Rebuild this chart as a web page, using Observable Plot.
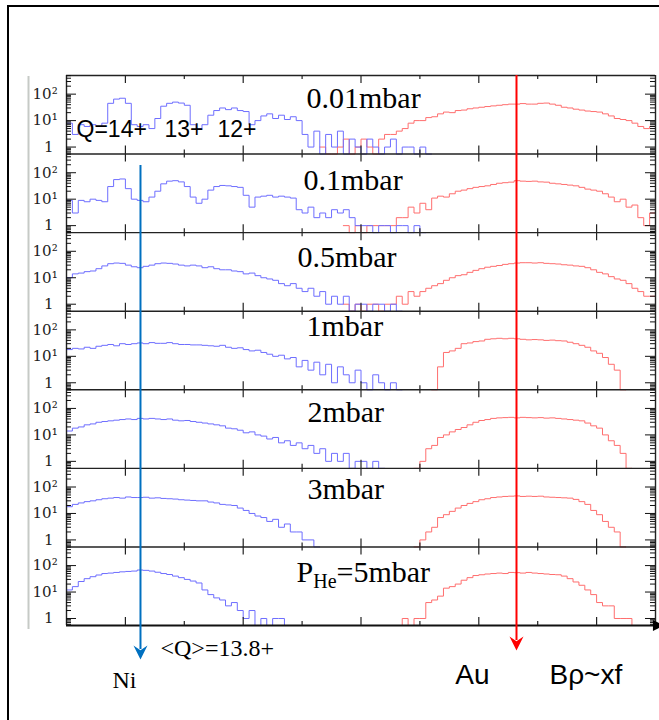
<!DOCTYPE html>
<html><head><meta charset="utf-8">
<script src="https://cdn.jsdelivr.net/npm/d3@7"></script>
<script src="https://cdn.jsdelivr.net/npm/@observablehq/plot@0.6"></script>
<style>
html,body{margin:0;padding:0;background:#fff;overflow:hidden}
body{width:659px;height:720px;position:relative}
#frame{position:absolute;left:7px;top:5px;width:720px;height:800px;border:2.5px solid #000;pointer-events:none}
</style></head><body>
<div id="chart"></div><div id="frame"></div>
<script>
// ---- data: histogram counts per bin (bin k covers [k, k+1) on a 0..100 Bρ axis) ----
const pressures = ["0.01mbar","0.1mbar","0.5mbar","1mbar","2mbar","3mbar","P_He=5mbar"];

const ni001Start = 0;
const ni001 = [8,3,7,6,7,6,8,45,65,70, 45,7,6,7,5,12,35,45,50,46, 38,7,5,7,16,24,30,26,30,24, 22,7,10,15,18,12,16,11,14,10, 3,1,4,0,3,1,4,0,2,1, 0,2,1,0,1,2,0,1,1,0, 1,0];
const au001Start = 43;
const au001 = [1,0,0,1,2,0,1,2,1,0, 2,3,3,4,5,8,10,10,13,14, 18,21,20,24,25,28,30,32,34,36, 38,40,42,42,44,42,42,45,46,42, 38,32,30,27,25,23,22,21,18,15, 12,11,10,8,6,5,6];

const ni01Start = 0;
const ni01 = [9,3,9,8,10,9,8,30,55,58, 25,10,9,8,12,20,38,48,50,45, 30,12,7,10,22,30,33,32,30,28, 14,5,12,13,14,12,13,12,11,4, 3,5,2,3,2,4,3,4,2,1, 1,1,0,1,1,0,1,1,0,1, 0];
const au01Start = 47;
const au01 = [1,0,1,0,1,1,1,1,1,2, 2,5,3,7,4,11,13,12,16,20, 22,25,28,30,32,36,40,42,44,50, 48,47,48,45,44,40,38,36,34,32, 28,24,22,20,16,12,8,10,5,6, 2,1,3];

const ni05Start = 0;
const ni05 = [10,14,15,17,18,22,28,34,36,35, 30,26,24,27,30,34,36,35,33,30, 28,30,28,24,26,22,20,20,18,17, 14,15,12,10,9,8,6,5,6,4, 3,4,2,3,1,2,1,2,0,1, 1,0,1,1,0,1,0];
const au05Start = 47;
const au05 = [1,0,1,0,1,1,0,1,1,2,1,3,2, 3,4,5,6,8,10,12,13,16,19, 22,25,27,29,32,34,36,37,37,36, 37,35,34,33,31,30,28,27,24,20, 16,14,11,9,8,6,4,3,2,2];

const ni1Start = 0;
const ni1 = [18,20,19,22,20,24,26,28,25,30, 28,30,32,30,33,31,31,33,30,28, 28,27,27,26,25,24,26,22,20,21, 18,16,17,14,12,10,11,8,9,4, 7,3,6,2,5,1,4,2,1,3, 1,0,2,1,0,1,0];
const au1Start = 62;
const au1 = [0,4,14,16,20,30,32,36,38,44, 46,48,46,48,46,44,42,43,42,40, 41,39,38,34,30,26,22,16,13,9, 5,3,0];

const ni2Start = 0;
const ni2 = [14,18,20,24,26,30,32,34,36,38, 40,38,42,40,42,40,38,40,36,34, 35,32,30,28,26,24,22,18,17,15, 12,13,10,9,7,8,5,6,4,5, 3,4,2,3,1,2,1,2,0,1, 1,0,1,0];
const au2Start = 59;
const au2 = [0,1,3,4,8,10,13,16,19,24, 30,35,38,42,44,45,46,44,46,45, 44,45,43,44,42,40,38,36,34,28, 22,18,10,6,4,2,0];

const ni3Start = 0;
const ni3 = [18,22,25,28,30,33,36,38,40,38, 42,40,40,41,38,39,37,36,35,33, 32,31,30,30,27,25,22,21,20,16, 13,10,8,7,5,6,3,4,2,2, 1,1,0];
const au3Start = 59;
const au3 = [0,1,2,3,7,9,12,16,20,24, 28,33,36,40,42,44,45,46,44,45, 44,45,42,41,40,39,38,34,28,22, 13,9,5,3,2,0];

const ni5Start = 0;
const ni5 = [12,16,25,32,38,44,50,52,55,58, 60,62,68,66,62,56,50,46,40,35, 30,26,22,12,8,6,5,3,4,2, 1,2,0,1,0,1,1,0];
const au5Start = 56;
const au5 = [0,1,0,1,1,4,5,7,14,16, 20,28,35,42,45,48,50,52,50,55, 54,52,55,52,50,48,46,45,40,32, 24,18,12,8,4,3,3,1,1,1, 0];

const xTicksMajor = [10,30,50,70,90];
const xTicksMinor = [20,40,60,80];
const yTicksMajor = [1,10,100];
const yTickLabels = ["1","10¹","10²"];
const yTicksMinor = [0.6,0.7,0.8,0.9,2,3,4,5,6,7,8,9,20,30,40,50,60,70,80,90,200,300,400,500];
const qLabels = ["Q=14+","13+","12+"];

// ---- layout helpers (composite vertical axis: 7 stacked log panels) ----
const NP = 7, S = 2.97, LO = -0.265;
const base = i => (NP - 1 - i) * S;
const yOf = (i, v) => base(i) + (v > 0 ? Math.log10(v) - LO : 0);

const series = [
  [ni001Start, ni001, au001Start, au001],
  [ni01Start, ni01, au01Start, au01],
  [ni05Start, ni05, au05Start, au05],
  [ni1Start, ni1, au1Start, au1],
  [ni2Start, ni2, au2Start, au2],
  [ni3Start, ni3, au3Start, au3],
  [ni5Start, ni5, au5Start, au5]
];
const niRows = [], auRows = [];
function addRows(out, i, start, counts, key) {
  counts.forEach((c, j) => out.push({x: start + j, Y: yOf(i, c), key}));
  out.push({x: start + counts.length, Y: yOf(i, counts[counts.length - 1]), key});
}
series.forEach(([ns, n, as, a], i) => {
  addRows(niRows, i, ns, n, "ni" + i);
  addRows(auRows, i, as, a, "au" + i);
});

// ticks
const LMaj = 8 / 26.455, LMin = 4 / 26.455;
const xTickRows = [];
for (let b = 0; b <= NP; b++) {
  const Yb = b * S;
  for (const [arr, L] of [[xTicksMajor, LMaj], [xTicksMinor, LMin]])
    for (const t of arr) xTickRows.push({x: t, y1: b > 0 ? Yb - L : Yb, y2: b < NP ? Yb + L : Yb});
}
const yTickRows = [];
const yLabelRows = [];
for (let i = 0; i < NP; i++) {
  yTicksMajor.forEach((v, j) => {
    yTickRows.push({Y: yOf(i, v), len: 1.7});
    yLabelRows.push({Y: yOf(i, v), label: yTickLabels[j]});
  });
  yTicksMinor.forEach(v => yTickRows.push({Y: yOf(i, v), len: 0.85}));
}

// annotation positions
const labelPos = [[40.75,19.94],[40.24,16.84],[39.2,13.90],[40.75,11.29],[40.9,8.07],[40.9,5.13],[39.05,1.99]];
const labelRows = pressures.map((p, i) => ({text: p, x: labelPos[i][0], Y: labelPos[i][1]}));
const qPos = [1.70, 16.64, 25.64];
const qRows = qLabels.map((t, i) => ({text: t, x: qPos[i], Y: 18.74}));

const arrowDown = {draw(ctx, size) {
  const s = Math.sqrt(size);
  ctx.moveTo(0, s / 2); ctx.lineTo(-s / 2, -s / 2); ctx.lineTo(0, -s / 6); ctx.lineTo(s / 2, -s / 2); ctx.closePath();
}};
const arrowRight = {draw(ctx, size) {
  const s = Math.sqrt(size);
  ctx.moveTo(s / 2, 0); ctx.lineTo(-s / 2, -s / 2); ctx.lineTo(-s / 2, s / 2); ctx.closePath();
}};

const chart = Plot.plot({
  width: 659, height: 720,
  marginLeft: 66, marginRight: 4, marginTop: 75, marginBottom: 95,
  style: {background: "white", overflow: "visible"},
  x: {domain: [0, 100], axis: null},
  y: {domain: [0, NP * S], axis: null},
  marks: [
    Plot.ruleX([-6.45], {y1: 20.75, y2: -0.15, stroke: "#c6cac6", strokeWidth: 2}),
    Plot.line(auRows, {x: "x", y: "Y", z: "key", curve: "step-after", stroke: "#ff6e6e", strokeWidth: 1}),
    Plot.line(niRows, {x: "x", y: "Y", z: "key", curve: "step-after", stroke: "#6e6eff", strokeWidth: 1}),
    Plot.ruleY(d3.range(1, NP + 1).map(b => b * S), {x1: 0, x2: 100, stroke: "#222", strokeWidth: 1.4}),
    Plot.ruleY([0], {x1: 0, x2: 100, stroke: "#111", strokeWidth: 2}),
    Plot.ruleX([0, 100], {y1: 0, y2: NP * S, stroke: "#222", strokeWidth: 1.4}),
    Plot.ruleX(xTickRows, {x: "x", y1: "y1", y2: "y2", stroke: "#222", strokeWidth: 1.2}),
    Plot.ruleY(yTickRows, {y: "Y", x1: 0, x2: d => d.len, stroke: "#111", strokeWidth: 1}),
    Plot.ruleY(yTickRows, {y: "Y", x1: d => 100 - d.len, x2: 100, stroke: "#111", strokeWidth: 1}),
    Plot.text(yLabelRows.filter(d => d.label !== "1"), {x: -1.5, y: "Y", text: "label", textAnchor: "end", fontSize: 15, fontFamily: "DejaVu Serif", fill: "#222"}),
    Plot.text(yLabelRows.filter(d => d.label === "1"), {x: -1.5, y: "Y", text: "label", textAnchor: "end", dx: -4, fontSize: 15, fontFamily: "DejaVu Serif", fill: "#222"}),
    Plot.text(labelRows, {x: "x", y: "Y", text: "text", textAnchor: "start", fontSize: 30, fontFamily: "Liberation Serif", fill: "#000"}),
    Plot.text(qRows, {x: "x", y: "Y", text: "text", textAnchor: "start", fontSize: 23, fontFamily: "Liberation Sans", fill: "#000"}),
    Plot.ruleX([12.56], {y1: 17.39, y2: -0.91, stroke: "#0070c0", strokeWidth: 2}),
    Plot.dot([12.56], {x: d => d, y: -1.02, symbol: arrowDown, r: 7.9, fill: "#0070c0", stroke: "none"}),
    Plot.ruleX([76.4], {y1: NP * S, y2: -0.57, stroke: "#ff0000", strokeWidth: 2}),
    Plot.dot([76.4], {x: d => d, y: -0.68, symbol: arrowDown, r: 7.9, fill: "#ff0000", stroke: "none"}),
    Plot.dot([100.5], {x: d => d, y: 0, symbol: arrowRight, r: 6.2, fill: "#000", stroke: "none"}),
    Plot.text(["<Q>=13.8+"], {x: 15.96, y: -0.88, text: d => d, textAnchor: "start", fontSize: 24, fontFamily: "Liberation Serif", fill: "#000"}),
    Plot.text(["Ni"], {x: 9.85, y: -2.08, text: d => d, textAnchor: "middle", fontSize: 24, fontFamily: "Liberation Serif", fill: "#000"}),
    Plot.text(["Au"], {x: 68.93, y: -1.86, text: d => d, textAnchor: "middle", fontSize: 28, fontFamily: "Liberation Sans", fill: "#000"}),
    Plot.text(["Bρ~xf"], {x: 82.0, y: -1.86, text: d => d, textAnchor: "start", fontSize: 28, fontFamily: "Liberation Sans", fill: "#000"})
  ]
});
document.getElementById("chart").appendChild(chart);

// subscript for P_He
d3.select(chart).selectAll("text").filter(function() { return this.textContent === "P_He=5mbar"; }).each(function() {
  const t = d3.select(this);
  t.text(null);
  t.append("tspan").text("P");
  t.append("tspan").attr("font-size", "20px").attr("dy", "6").text("He");
  t.append("tspan").attr("dy", "-6").text("=5mbar");
});
</script>
</body></html>
